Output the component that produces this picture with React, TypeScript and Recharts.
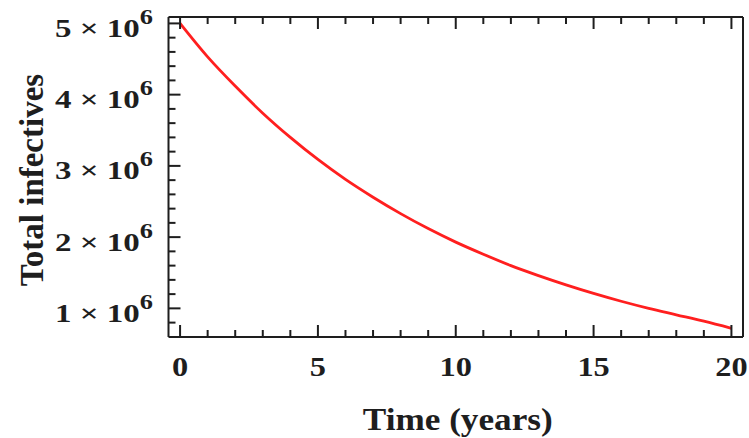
import { LineChart, Line, XAxis, YAxis } from "recharts";

// time in years and total infectives
const TIME = [0, 1, 2, 3, 4, 5, 6, 7, 8, 9, 10, 11, 12, 13, 14, 15, 16, 17, 18, 19, 20];
const INFECTIVES = [
  5.0e6, 4.53e6, 4.12e6, 3.74e6, 3.4e6, 3.09e6, 2.81e6, 2.56e6, 2.33e6, 2.12e6, 1.93e6,
  1.76e6, 1.6e6, 1.46e6, 1.33e6, 1.21e6, 1.1e6, 1.0e6, 0.91e6, 0.82e6, 0.72e6,
];

const X_TICKS = [0, 1, 2, 3, 4, 5, 6, 7, 8, 9, 10, 11, 12, 13, 14, 15, 16, 17, 18, 19, 20];
const X_LABELS = [0, 5, 10, 15, 20];
const Y_TICKS = [
  0.8e6, 1.0e6, 1.2e6, 1.4e6, 1.6e6, 1.8e6, 2.0e6, 2.2e6, 2.4e6, 2.6e6, 2.8e6, 3.0e6,
  3.2e6, 3.4e6, 3.6e6, 3.8e6, 4.0e6, 4.2e6, 4.4e6, 4.6e6, 4.8e6, 5.0e6,
];
const Y_LABELS = [1e6, 2e6, 3e6, 4e6, 5e6];

const data = TIME.map((t, i) => ({ t, v: INFECTIVES[i] }));

const FRAME = "#1e1e1e";
const RED = "#ff1f1f";
const FONT = "Liberation Serif, Tinos, Times New Roman, serif";

const isMajorX = (v: number) => X_LABELS.includes(v);
const isMajorY = (v: number) => Y_LABELS.some((m) => Math.abs(m - v) < 1);

// ticks point into the frame, like the original plot
function BottomTick(props: any) {
  const { x, y, payload } = props;
  const major = isMajorX(payload.value);
  return (
    <g>
      <line x1={x} x2={x} y1={y} y2={y - (major ? 12 : 7)} stroke={FRAME} strokeWidth={2} />
      {major && (
        <text
          transform={`translate(${x},${y + 39}) scale(1.2,1)`}
          textAnchor="middle"
          style={{ fontFamily: FONT, fontWeight: 700, fontSize: 27 }}
          fill={FRAME}
        >
          {payload.value}
        </text>
      )}
    </g>
  );
}

function TopTick(props: any) {
  const { x, y, payload } = props;
  const major = isMajorX(payload.value);
  return <line x1={x} x2={x} y1={y} y2={y + (major ? 12 : 7)} stroke={FRAME} strokeWidth={2} />;
}

function LeftTick(props: any) {
  const { x, y, payload } = props;
  const major = isMajorY(payload.value);
  return (
    <g>
      <line x1={x} x2={x + (major ? 12 : 7)} y1={y} y2={y} stroke={FRAME} strokeWidth={2} />
      {major && (
        <text
          transform={`translate(${x - 15.5},${y + 13.5}) scale(1.32,1)`}
          textAnchor="end"
          style={{ fontFamily: FONT, fontWeight: 700, fontSize: 25 }}
          fill={FRAME}
        >
          {`${Math.round(payload.value / 1e6)} × 10`}
          <tspan dy={-13} style={{ fontSize: 20 }}>
            6
          </tspan>
        </text>
      )}
    </g>
  );
}

function RightTick(props: any) {
  const { x, y, payload } = props;
  const major = isMajorY(payload.value);
  return <line x1={x} x2={x - (major ? 12 : 7)} y1={y} y2={y} stroke={FRAME} strokeWidth={2} />;
}

function XTitle(props: any) {
  const { viewBox } = props;
  return (
    <text
      transform={`translate(${viewBox.x + viewBox.width / 2 + 2},${viewBox.y + 93}) scale(1.1,1)`}
      textAnchor="middle"
      style={{ fontFamily: FONT, fontWeight: 700, fontSize: 32 }}
      fill={FRAME}
    >
      Time (years)
    </text>
  );
}

function YTitle(props: any) {
  const { viewBox } = props;
  return (
    <text
      transform={`translate(43,${viewBox.y + viewBox.height / 2 + 3}) rotate(-90)`}
      textAnchor="middle"
      style={{ fontFamily: FONT, fontWeight: 700, fontSize: 33 }}
      fill={FRAME}
    >
      Total infectives
    </text>
  );
}

export default function App() {
  const axisLine = { stroke: FRAME, strokeWidth: 2 };
  return (
    <div style={{ position: "absolute", left: 0, top: 0, width: 749, height: 438, background: "#fff" }}>
      <LineChart width={749} height={438} data={data} margin={{ top: 0, right: 0, bottom: 0, left: 0 }}>
        <XAxis
          xAxisId="b"
          dataKey="t"
          type="number"
          domain={[-0.42, 20.42]}
          ticks={X_TICKS}
          height={101}
          axisLine={axisLine}
          tickLine={false}
          tickSize={0}
          tickMargin={0}
          tick={<BottomTick />}
          interval={0}
          label={<XTitle />}
        />
        <XAxis
          xAxisId="t"
          orientation="top"
          dataKey="t"
          type="number"
          domain={[-0.42, 20.42]}
          ticks={X_TICKS}
          height={17}
          axisLine={axisLine}
          tickLine={false}
          tickSize={0}
          tickMargin={0}
          tick={<TopTick />}
          interval={0}
        />
        <YAxis
          yAxisId="l"
          type="number"
          domain={[0.598e6, 5.09e6]}
          ticks={Y_TICKS}
          width={168.5}
          axisLine={axisLine}
          tickLine={false}
          tickSize={0}
          tickMargin={0}
          tick={<LeftTick />}
          interval={0}
          label={<YTitle />}
        />
        <YAxis
          yAxisId="r"
          orientation="right"
          type="number"
          domain={[0.598e6, 5.09e6]}
          ticks={Y_TICKS}
          width={6}
          axisLine={axisLine}
          tickLine={false}
          tickSize={0}
          tickMargin={0}
          tick={<RightTick />}
          interval={0}
        />
        <Line
          xAxisId="b"
          yAxisId="l"
          type="monotone"
          dataKey="v"
          stroke={RED}
          strokeWidth={2.8}
          dot={false}
          isAnimationActive={false}
        />
      </LineChart>
    </div>
  );
}
